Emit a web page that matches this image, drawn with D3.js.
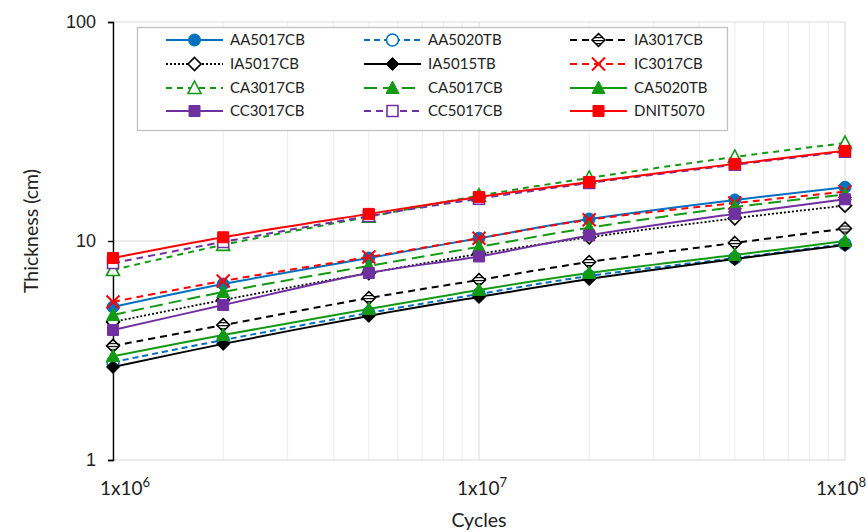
<!DOCTYPE html>
<html>
<head>
<meta charset="utf-8">
<script src="https://cdn.jsdelivr.net/npm/d3@7"></script>
<style>
  body { margin: 0; background: #fff; }
  svg { display: block; font-family: Lato, "Open Sans", sans-serif; }
</style>
</head>
<body>
<div id="chart"></div>
<script>
// cycles (x) and thickness values (cm) per design
const cycles = [1e6, 2e6, 5e6, 1e7, 2e7, 5e7, 1e8];
const AA5017CB = [5.0, 6.36, 8.36, 10.3, 12.6, 15.4, 17.6];
const AA5020TB = [2.8, 3.53, 4.69, 5.73, 6.92, 8.36, 9.69];
const IA3017CB = [3.32, 4.13, 5.49, 6.64, 8.02, 9.8, 11.4];
const IA5017CB = [4.27, 5.38, 7.14, 8.73, 10.4, 12.7, 14.5];
const IA5015TB = [2.66, 3.39, 4.55, 5.55, 6.7, 8.27, 9.59];
const IC3017CB = [5.27, 6.57, 8.45, 10.3, 12.5, 14.9, 16.8];
const CA3017CB = [7.37, 9.6, 12.9, 16.1, 19.4, 24.2, 28.0];
const CA5017CB = [4.59, 5.85, 7.69, 9.4, 11.5, 14.3, 16.3];
const CA5020TB = [2.98, 3.72, 4.89, 5.98, 7.14, 8.63, 10.0];
const CC3017CB = [3.92, 5.1, 7.14, 8.5, 10.6, 13.3, 15.5];
const CC5017CB = [7.93, 9.9, 13.0, 15.6, 18.4, 22.3, 25.6];
const DNIT5070 = [8.36, 10.4, 13.3, 15.9, 18.6, 22.5, 25.8];

const yTicks = [1, 10, 100];
const xTicks = [1e6, 1e7, 1e8];
const xTitle = "Cycles";
const yTitle = "Thickness (cm)";

const blue = "#0070C0", green = "#139A13", purple = "#7030A0", red = "#FF0000", black = "#000000";

const series = [
  { name: "AA5017CB", values: AA5017CB, color: blue,   dash: null,   marker: "circle",   open: false },
  { name: "AA5020TB", values: AA5020TB, color: blue,   dash: "6,4",  marker: "circle",   open: true },
  { name: "IA3017CB", values: IA3017CB, color: black,  dash: "7,5",  marker: "diamond",  open: "stripe" },
  { name: "IA5017CB", values: IA5017CB, color: black,  dash: "2,2",  marker: "diamond",  open: true },
  { name: "IA5015TB", values: IA5015TB, color: black,  dash: null,   marker: "diamond",  open: false },
  { name: "IC3017CB", values: IC3017CB, color: red,    dash: "7,5",  marker: "x",        open: true },
  { name: "CA3017CB", values: CA3017CB, color: green,  dash: "6,5",  marker: "triangle", open: true },
  { name: "CA5017CB", values: CA5017CB, color: green,  dash: "13,6", marker: "triangle", open: false },
  { name: "CA5020TB", values: CA5020TB, color: green,  dash: null,   marker: "triangle", open: false },
  { name: "CC3017CB", values: CC3017CB, color: purple, dash: null,   marker: "square",   open: false },
  { name: "CC5017CB", values: CC5017CB, color: purple, dash: "7,5",  marker: "square",   open: true },
  { name: "DNIT5070", values: DNIT5070, color: red,    dash: null,   marker: "square",   open: false }
];

var width = 867, height = 532;
var margin = { top: 22, right: 22, bottom: 72, left: 113 };

const svg = d3.select("#chart").append("svg")
  .attr("width", width)
  .attr("height", height);

// stripes for the IA3017CB diamond
const pat = svg.append("defs").append("pattern")
  .attr("id", "stripe")
  .attr("patternUnits", "userSpaceOnUse")
  .attr("width", 4).attr("height", 3);
pat.append("rect").attr("width", 4).attr("height", 3).attr("fill", "#fff");
pat.append("rect").attr("width", 4).attr("height", 1.2).attr("fill", "#000");

const x = d3.scaleLog().domain([1e6, 1e8]).range([margin.left, width - margin.right]);
const y = d3.scaleLog().domain([1, 100]).range([height - margin.bottom, margin.top]);

// minor grid
const grid = svg.append("g");
const xMinor = x.ticks().filter(d => xTicks.indexOf(d) < 0);
grid.selectAll(".xm").data(xMinor).enter().append("line")
  .attr("x1", d => x(d)).attr("x2", d => x(d))
  .attr("y1", y(1)).attr("y2", y(100))
  .attr("stroke", "#ececec").attr("stroke-width", 1);
grid.selectAll(".xM").data(xTicks).enter().append("line")
  .attr("x1", d => x(d)).attr("x2", d => x(d))
  .attr("y1", y(1)).attr("y2", y(100))
  .attr("stroke", "#d9d9d9").attr("stroke-width", 1);
grid.selectAll(".yM").data(yTicks).enter().append("line")
  .attr("x1", x(1e6)).attr("x2", x(1e8))
  .attr("y1", d => y(d)).attr("y2", d => y(d))
  .attr("stroke", "#d9d9d9").attr("stroke-width", 1);

// y axis
const yAxis = d3.axisLeft(y).tickValues(yTicks).tickFormat(d3.format("d")).tickSize(5);
const ya = svg.append("g")
  .attr("transform", `translate(${margin.left},0)`)
  .call(yAxis);
ya.select(".domain").attr("stroke", "#000").attr("stroke-width", 1.4);
ya.selectAll(".tick line").attr("stroke", "#000").attr("stroke-width", 1.4);
ya.selectAll("text").attr("font-size", 18).attr("fill", "#222").attr("x", -17);

// x tick labels 1x10^n
const xl = svg.append("g");
xTicks.forEach(function (d, i) {
  var anchor = i === 0 ? "start" : (i === xTicks.length - 1 ? "end" : "middle");
  var dx = i === 0 ? -13 : (i === xTicks.length - 1 ? 21 : 3);
  var t = xl.append("text")
    .attr("x", x(d) + dx)
    .attr("y", height - margin.bottom + 35)
    .attr("text-anchor", anchor)
    .attr("font-size", 19)
    .attr("fill", "#222");
  t.append("tspan").text("1x10");
  t.append("tspan").text(Math.round(Math.log10(d)))
    .attr("font-size", 13).attr("dy", -8);
});

// axis titles
svg.append("text")
  .attr("x", (x(1e6) + x(1e8)) / 2)
  .attr("y", height - 5)
  .attr("text-anchor", "middle")
  .attr("font-size", 19.5).attr("fill", "#222")
  .text(xTitle);
svg.append("text")
  .attr("transform", `translate(38,${(y(1) + y(100)) / 2 - 10}) rotate(-90)`)
  .attr("text-anchor", "middle")
  .attr("font-size", 19.5).attr("fill", "#222")
  .text(yTitle);

function markerPath(type) {
  if (type === "circle") return d3.symbol().type(d3.symbolCircle).size(Math.PI * 36)();
  if (type === "square") return "M-5.5,-5.5H5.5V5.5H-5.5Z";
  if (type === "triangle") return "M0,-7L6.5,5.5H-6.5Z";
  if (type === "diamond") return "M0,-6.5L6.5,0L0,6.5L-6.5,0Z";
  if (type === "x") return "M-6.5,-6.5L6.5,6.5M-6.5,6.5L6.5,-6.5";
}

function drawMarker(g, s) {
  var p = g.append("path").attr("d", markerPath(s.marker));
  if (s.marker === "x") {
    p.attr("fill", "none").attr("stroke", s.color).attr("stroke-width", 2);
  } else if (s.open === "stripe") {
    p.attr("fill", "url(#stripe)").attr("stroke", s.color).attr("stroke-width", 1.5);
  } else if (s.open) {
    p.attr("fill", "#fff").attr("stroke", s.color).attr("stroke-width", 1.6);
  } else {
    p.attr("fill", s.color).attr("stroke", s.color).attr("stroke-width", 1);
  }
}

const line = d3.line()
  .x(d => x(d[0]))
  .y(d => y(d[1]))
  .curve(d3.curveCatmullRom.alpha(0.5));

const plot = svg.append("g");
series.forEach(function (s) {
  var pts = cycles.map((c, i) => [c, s.values[i]]);
  var g = plot.append("g");
  g.append("path")
    .datum(pts)
    .attr("d", line)
    .attr("fill", "none")
    .attr("stroke", s.color)
    .attr("stroke-width", s.dash === "2,2" ? 1.8 : 2)
    .attr("stroke-dasharray", s.dash);
  pts.forEach(function (p) {
    var m = g.append("g").attr("transform", `translate(${x(p[0])},${y(p[1])})`);
    drawMarker(m, s);
  });
});

// legend
const legend = svg.append("g");
legend.append("rect")
  .attr("x", 137.5).attr("y", 27.5)
  .attr("width", 590).attr("height", 103)
  .attr("fill", "#fff")
  .attr("stroke", "#bfbfbf").attr("stroke-width", 1.3);

const colX = [166, 364, 570];
const rowY = [40, 64, 88, 111];
series.forEach(function (s, i) {
  var cx = colX[i % 3], cy = rowY[Math.floor(i / 3)];
  var g = legend.append("g").attr("transform", `translate(${cx},${cy})`);
  g.append("line")
    .attr("x1", 0).attr("x2", 57)
    .attr("stroke", s.color)
    .attr("stroke-width", s.dash === "2,2" ? 1.8 : 2)
    .attr("stroke-dasharray", s.dash);
  var m = g.append("g").attr("transform", "translate(28.5,0)");
  drawMarker(m, s);
  g.append("text")
    .attr("x", 64).attr("y", 0)
    .attr("dy", "0.36em")
    .attr("font-size", 15)
    .attr("fill", "#222")
    .text(s.name);
});
</script>
</body>
</html>
